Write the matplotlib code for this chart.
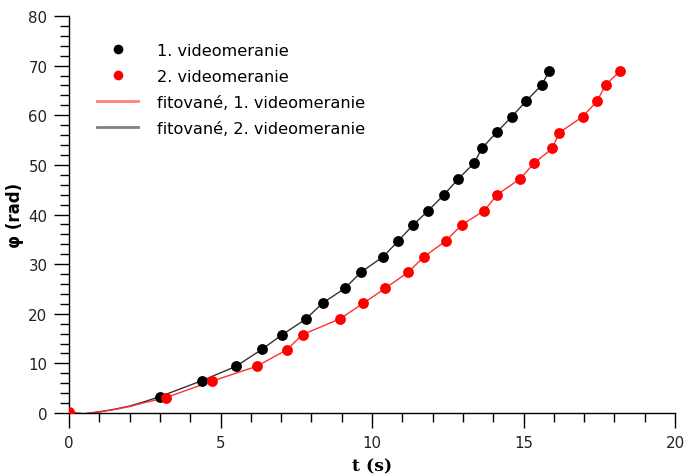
import numpy as np
import matplotlib
matplotlib.use("Agg")
import matplotlib.pyplot as plt
from matplotlib.lines import Line2D
from matplotlib.ticker import MultipleLocator

# 1. videomeranie (black points)
t1 = [0.0, 3.00, 4.38, 5.51, 6.36, 7.04, 7.81, 8.38, 9.10, 9.64, 10.37, 10.87,
      11.36, 11.86, 12.38, 12.85, 13.38, 13.62, 14.12, 14.61, 15.08, 15.60, 15.85]
phi1 = [0.0, 3.3, 6.5, 9.4, 12.8, 15.8, 18.9, 22.2, 25.1, 28.4, 31.5, 34.7,
        37.9, 40.8, 44.0, 47.2, 50.4, 53.3, 56.6, 59.7, 62.8, 66.1, 68.9]

# 2. videomeranie (red points)
t2 = [0.0, 3.20, 4.71, 6.19, 7.18, 7.71, 8.95, 9.71, 10.43, 11.20, 11.72, 12.44,
      12.96, 13.71, 14.13, 14.89, 15.36, 15.95, 16.18, 16.95, 17.42, 17.71, 18.18]
phi2 = [0.2, 3.1, 6.4, 9.4, 12.7, 15.8, 19.0, 22.1, 25.1, 28.4, 31.5, 34.7,
        37.9, 40.8, 44.0, 47.2, 50.4, 53.3, 56.5, 59.7, 62.8, 66.1, 68.9]

# fitted curves, start segment
fit1_t = [0.0, 0.5, 1.0, 1.5, 2.0, 2.5] + t1[1:]
fit1_phi = [0.0, -0.15, 0.25, 0.75, 1.4, 2.3] + phi1[1:]
fit2_t = [0.0, 0.5, 1.0, 1.5, 2.0, 2.5] + t2[1:]
fit2_phi = [0.2, -0.2, 0.2, 0.7, 1.3, 2.1] + phi2[1:]

fig = plt.figure(figsize=(6.86, 4.77), dpi=100)
ax = fig.add_axes([69/686, 1-414/477, (675-69)/686, (414-17)/477])

ax.plot(fit1_t, fit1_phi, color='#333333', linewidth=1.0, zorder=2)
ax.plot(fit2_t, fit2_phi, color='#ff3030', linewidth=1.0, zorder=2)
ax.plot(t1, phi1, 'o', color='black', markersize=7.8, markeredgewidth=0, zorder=3)
ax.plot(t2, phi2, 'o', color='#ff0000', markersize=7.8, markeredgewidth=0, zorder=4)

ax.set_xlim(0, 20)
ax.set_ylim(0, 80)
ax.xaxis.set_major_locator(MultipleLocator(5))
ax.xaxis.set_minor_locator(MultipleLocator(1))
ax.yaxis.set_major_locator(MultipleLocator(10))
ax.yaxis.set_minor_locator(MultipleLocator(2))
ax.tick_params(which='major', length=10.5, width=1, direction='out', labelsize=10.8,
               labelcolor='#222222', pad=5)
ax.tick_params(which='minor', length=6.5, width=1, direction='out')
for s in ['top', 'right']:
    ax.spines[s].set_visible(False)
for s in ['left', 'bottom']:
    ax.spines[s].set_linewidth(1.0)

ax.set_xlabel('t (s)', fontsize=12.5, fontweight='bold', family='DejaVu Serif', labelpad=5.5)
ax.set_ylabel('φ (rad)', fontsize=12, fontweight='bold', labelpad=3)

handles = [
    Line2D([], [], linestyle='none', marker='o', color='black', markersize=7, markeredgewidth=0),
    Line2D([], [], linestyle='none', marker='o', color='#ff0000', markersize=7, markeredgewidth=0),
    Line2D([], [], color='#ff8080', linewidth=2),
    Line2D([], [], color='#808080', linewidth=2),
]
labels = ['1. videomeranie', '2. videomeranie',
          'fitované, 1. videomeranie', 'fitované, 2. videomeranie']
fig.legend(handles, labels, loc='upper left', bbox_to_anchor=(97/686, 1-44/477),
           frameon=False, fontsize=11.6, handlelength=2.55, handletextpad=1.18,
           labelspacing=0.68, borderpad=0, borderaxespad=0)

fig.savefig('out.png', dpi=100)
